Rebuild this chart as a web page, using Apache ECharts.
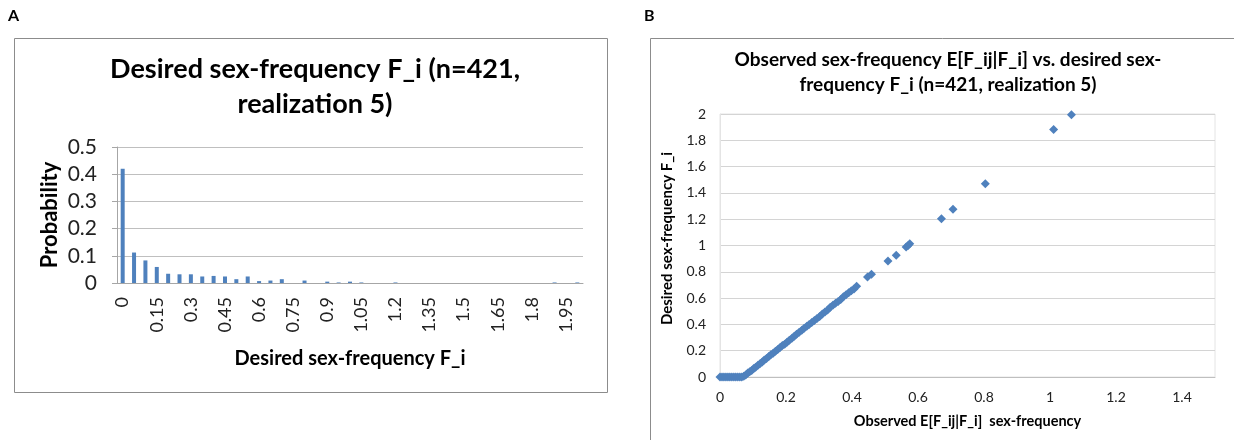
<!DOCTYPE html>
<html>
<head>
<meta charset="utf-8">
<script src="https://cdn.jsdelivr.net/npm/echarts@6/dist/echarts.min.js"></script>
<style>
html,body{margin:0;padding:0;background:#fff;}
#main{width:1234px;height:440px;}
</style>
</head>
<body>
<div id="main"></div>
<script>
// A: histogram of desired sex-frequency
var binLabels=['0','0.05','0.1','0.15','0.2','0.25','0.3','0.35','0.4','0.45',
    '0.5','0.55','0.6','0.65','0.7','0.75','0.8','0.85','0.9','0.95',
    '1','1.05','1.1','1.15','1.2','1.25','1.3','1.35','1.4','1.45',
    '1.5','1.55','1.6','1.65','1.7','1.75','1.8','1.85','1.9','1.95','2'];
var probability=[0.42,0.112,0.083,0.059,0.034,0.032,0.032,0.024,0.026,0.024,
    0.014,0.024,0.007,0.009,0.014,0,0.009,0,0.005,0.002,
    0.005,0.002,0,0,0.002,0,0,0,0,0,
    0,0,0,0,0,0,0,0,0.002,0,0.002];

// B: observed vs desired, [observed, desired]
var zeroPoints=[[0,0],[0.006,0],[0.012,0],[0.018,0],[0.024,0],[0.03,0],[0.036,0],
    [0.042,0],[0.048,0],[0.054,0],[0.06,0],[0.066,0]];
var densePoints=[[0.072,0.005],[0.078,0.015],[0.084,0.03],[0.09,0.04],[0.096,0.05],
    [0.102,0.065],[0.108,0.075],[0.115,0.09],[0.121,0.1],[0.128,0.115],[0.134,0.13],
    [0.141,0.14],[0.148,0.155],[0.154,0.17],[0.161,0.18],[0.168,0.195],[0.175,0.21],
    [0.182,0.225],[0.189,0.24],[0.196,0.25],[0.203,0.265],[0.21,0.28],[0.218,0.295],
    [0.225,0.31],[0.232,0.325],[0.24,0.34],[0.248,0.355],[0.255,0.37],[0.263,0.385],
    [0.27,0.4],[0.278,0.415],[0.286,0.43],[0.294,0.445],[0.302,0.46],[0.31,0.48],
    [0.318,0.495],[0.326,0.51],[0.334,0.53],[0.342,0.545],[0.35,0.56],[0.358,0.575],
    [0.366,0.59],[0.374,0.61],[0.382,0.625],[0.39,0.64],[0.398,0.655],[0.406,0.67],
    [0.414,0.69]];
var sparsePoints=[[0.447,0.76],[0.459,0.781],[0.509,0.882],[0.534,0.925],[0.564,0.989],
    [0.57,1.0],[0.575,1.014],[0.671,1.204],[0.706,1.275],[0.804,1.47],[1.011,1.883],
    [1.065,1.995]];

var FONT='Lato';
var BLUE='#4f81bd';
var chart=echarts.init(document.getElementById('main'));

var option={
    animation:false,
    textStyle:{fontFamily:FONT},
    title:[{
        text:'Desired sex-frequency F_i (n=421,\nrealization 5)',
        left:310,top:47,textAlign:'center',
        textStyle:{fontFamily:FONT,fontSize:27,fontWeight:'bold',color:'#000',lineHeight:35}
    },{
        text:'Observed sex-frequency E[F_ij|F_i] vs. desired sex-\nfrequency F_i (n=421, realization 5)',
        left:943,top:42,textAlign:'center',
        textStyle:{fontFamily:FONT,fontSize:19,fontWeight:'bold',color:'#000',lineHeight:25}
    }],
    graphic:[
        {type:'rect',shape:{x:14.5,y:38.5,width:593,height:354},style:{fill:'none',stroke:'#8c8c8c',lineWidth:1}},
        {type:'rect',shape:{x:650.5,y:38.5,width:700,height:500},style:{fill:'none',stroke:'#8c8c8c',lineWidth:1}},
        {type:'text',left:8,top:8,style:{text:'A',font:'bold 16px '+FONT,fill:'#000'}},
        {type:'text',left:644,top:8,style:{text:'B',font:'bold 16px '+FONT,fill:'#000'}}
    ],
    grid:[
        {left:117,top:147,width:466,height:136},
        {left:720,top:114,width:495,height:263,show:true,borderColor:'#e4e4e4',borderWidth:1}
    ],
    xAxis:[{
        gridIndex:0,type:'category',data:binLabels,
        name:'Desired sex-frequency F_i',nameLocation:'middle',nameGap:66,
        nameTextStyle:{fontSize:20,fontWeight:'bold',color:'#000'},
        axisLine:{lineStyle:{color:'#a6a6a6'}},
        axisTick:{show:false},
        axisLabel:{interval:2,rotate:90,fontSize:18,color:'#222',margin:14}
    },{
        gridIndex:1,type:'value',min:0,max:1.5,interval:0.2,
        name:'Observed E[F_ij|F_i]  sex-frequency',nameLocation:'middle',nameGap:37,
        nameTextStyle:{fontSize:14.5,fontWeight:'bold',color:'#000'},
        axisLine:{show:true,lineStyle:{color:'#bfbfbf'}},
        axisTick:{show:false},
        splitLine:{show:false},
        axisLabel:{fontSize:14,color:'#222',margin:13,showMaxLabel:false}
    }],
    yAxis:[{
        gridIndex:0,type:'value',min:0,max:0.5,interval:0.1,
        name:'Probability',nameLocation:'middle',nameGap:56,
        nameTextStyle:{fontSize:22,fontWeight:'bold',color:'#000'},
        axisLine:{show:true,lineStyle:{color:'#a6a6a6'}},
        axisTick:{show:true,length:5,lineStyle:{color:'#a6a6a6'}},
        splitLine:{lineStyle:{color:'#bfbfbf',width:1}},
        axisLabel:{fontSize:21,color:'#222',margin:20}
    },{
        gridIndex:1,type:'value',min:0,max:2,interval:0.2,
        name:'Desired sex-frequency F_i',nameLocation:'middle',nameGap:45,
        nameTextStyle:{fontSize:15,fontWeight:'bold',color:'#000',padding:[0,0,0,14]},
        axisLine:{show:true,lineStyle:{color:'#e4e4e4'}},
        axisTick:{show:false},
        splitLine:{lineStyle:{color:'#d4d4d4',width:1}},
        axisLabel:{fontSize:14,color:'#222',margin:14}
    }],
    series:[{
        type:'bar',xAxisIndex:0,yAxisIndex:0,data:probability,
        barWidth:4,itemStyle:{color:BLUE}
    },{
        type:'scatter',xAxisIndex:1,yAxisIndex:1,data:zeroPoints,
        symbol:'diamond',symbolSize:9,itemStyle:{color:BLUE,opacity:1}
    },{
        type:'scatter',xAxisIndex:1,yAxisIndex:1,data:densePoints,
        symbol:'diamond',symbolSize:9,itemStyle:{color:BLUE,opacity:1}
    },{
        type:'scatter',xAxisIndex:1,yAxisIndex:1,data:sparsePoints,
        symbol:'diamond',symbolSize:9,itemStyle:{color:BLUE,opacity:1}
    }]
};
chart.setOption(option);
</script>
</body>
</html>
